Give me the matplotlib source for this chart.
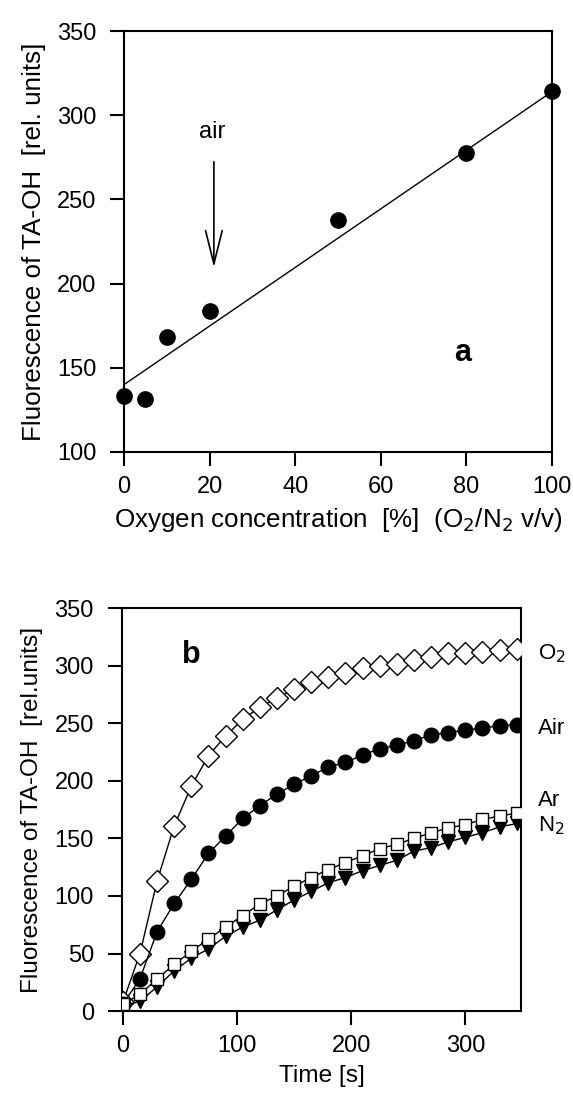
import matplotlib
matplotlib.use("Agg")
import matplotlib.pyplot as plt

plt.rcParams['font.family'] = ['Liberation Sans', 'DejaVu Sans']

# panel a: fluorescence vs oxygen concentration
oxy_pct = [0, 5, 10, 20, 50, 80, 100]
oxy_fluor = [133.5, 131.5, 168.5, 184, 238, 277.5, 314.5]
fit_x = [0, 100]
fit_y = [140, 314]

# panel b: kinetics, one point every 15 s
time_s = [0, 15, 30, 45, 60, 75, 90, 105, 120, 135, 150, 165,
          180, 195, 210, 225, 240, 255, 270, 285, 300, 315, 330, 345]
o2 = [7.5, 50, 113, 161, 195.5, 222, 239, 253.5, 264, 272, 280, 286,
      290, 294, 298, 300, 302, 305, 308, 311, 311, 312, 314, 315]
air = [6, 28, 69, 93.5, 114.5, 137, 152, 167.5, 178.5, 188.5, 197, 204.5,
       212, 216, 222.5, 228, 231, 235, 240, 242, 244, 246, 248, 249]
ar = [6, 14.5, 28, 40.5, 52, 62.5, 73, 83, 93, 100, 108.5, 116,
      123, 129, 135, 141, 145, 150, 155, 159, 162, 166.5, 169.5, 172]
n2 = [4.5, 8.5, 21, 35, 46, 54, 65, 73, 79, 88, 96.5, 104,
      111.5, 116, 122, 126.5, 131, 139, 142, 147, 151, 155, 160, 163]
gas_labels = ['O$_2$', 'Air', 'Ar', 'N$_2$']
gas_label_y = [306, 241, 178, 156.5]

tfs = 17

fig = plt.figure(figsize=(5.73, 11.04), dpi=100)

# ---- panel a ----
ax1 = fig.add_axes([0.2164, 0.5906, 0.747, 0.3813])
ax1.plot(fit_x, fit_y, color='black', lw=1.0)
ax1.plot(oxy_pct, oxy_fluor, 'o', color='black', ms=11, clip_on=False, zorder=3)
ax1.set_xlim(0, 100)
ax1.set_ylim(100, 350)
ax1.set_xticks([0, 20, 40, 60, 80, 100])
ax1.set_yticks([100, 150, 200, 250, 300, 350])
ax1.set_xlabel('Oxygen concentration  [%]  (O$_2$/N$_2$ v/v)', fontsize=18.7, labelpad=6)
ax1.set_ylabel('Fluorescence of TA-OH  [rel. units]', fontsize=18.7, labelpad=8)
ax1.text(20.5, 290, 'air', fontsize=17, ha='center', va='center')
ax1.annotate('', xy=(21, 208), xytext=(21, 274),
             arrowprops=dict(arrowstyle='->,head_length=2.4,head_width=0.6', color='black', lw=1.2))
ax1.text(79, 159, 'a', fontsize=22, fontweight='bold', ha='center', va='center')

# ---- panel b ----
ax2 = fig.add_axes([0.2124, 0.0842, 0.6974, 0.3648])
ax2.plot(time_s, o2, '-D', color='black', mfc='white', mec='black', ms=11, mew=1.0, lw=1.0, zorder=3)
ax2.plot(time_s, air, '-o', color='black', ms=10.5, lw=1.0, zorder=3)
ax2.plot(time_s, n2, '-v', color='black', ms=9.5, lw=1.0, zorder=3)
ax2.plot(time_s, ar, '-s', color='black', mfc='white', mec='black', ms=8, mew=1.0, lw=1.0, zorder=4)
ax2.set_xlim(-1, 349)
ax2.set_ylim(0, 350)
ax2.set_xticks([0, 100, 200, 300])
ax2.set_yticks([0, 50, 100, 150, 200, 250, 300, 350])
ax2.set_xlabel('Time [s]', fontsize=17.6, labelpad=6)
ax2.set_ylabel('Fluorescence of TA-OH  [rel.units]', fontsize=17.6, labelpad=8)
ax2.text(60, 309, 'b', fontsize=22, fontweight='bold', ha='center', va='center')
for lab, yv in zip(gas_labels, gas_label_y):
    ax2.text(364, yv, lab, fontsize=16, ha='left', va='baseline', clip_on=False)

for ax in (ax1, ax2):
    for sp in ax.spines.values():
        sp.set_linewidth(1.5)
    ax.tick_params(direction='out', length=10, width=1.5, labelsize=tfs)
    ax.tick_params(axis='x', pad=7)
    ax.tick_params(axis='y', pad=10)

fig.savefig('out.png', dpi=100)
